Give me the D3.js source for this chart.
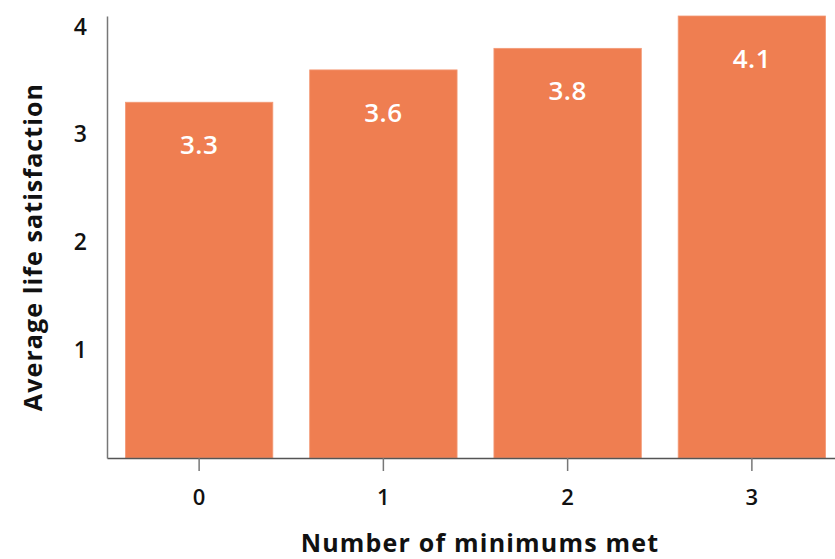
<!DOCTYPE html>
<html>
<head>
<meta charset="utf-8">
<script src="https://cdn.jsdelivr.net/npm/d3@7"></script>
<style>
  html, body { margin: 0; padding: 0; background: #fff; }
  svg { display: block; font-family: "Open Sans", "Noto Sans", sans-serif; }
</style>
</head>
<body>
<svg id="chart" width="835" height="559"></svg>
<script>
// Average life satisfaction by number of minimums met
const categories = ["0", "1", "2", "3"];
const values = [3.3, 3.6, 3.8, 4.1];
const yTicks = [1, 2, 3, 4];
const xTitle = "Number of minimums met";
const yTitle = "Average life satisfaction";

const svg = d3.select("#chart");
const plotLeft = 107, plotRight = 844, plotBottom = 458, plotTop = 16;

const x = d3.scaleBand()
  .domain(categories)
  .range([plotLeft, plotRight])
  .paddingInner(0.2)
  .paddingOuter(0.1);

const y = d3.scaleLinear()
  .domain([0, d3.max(values)])
  .range([plotBottom, plotTop]);

// bars
svg.append("g")
  .selectAll("rect")
  .data(values)
  .join("rect")
  .attr("x", (d, i) => x(categories[i]))
  .attr("y", d => y(d))
  .attr("width", x.bandwidth())
  .attr("height", d => y(0) - y(d))
  .attr("fill", "#ef7e51")
  .attr("stroke", "#f39a77")
  .attr("stroke-width", 0.8);

// value labels inside the bars
svg.append("g")
  .selectAll("text")
  .data(values)
  .join("text")
  .attr("x", (d, i) => x(categories[i]) + x.bandwidth() / 2)
  .attr("y", d => y(d) + 52)
  .attr("text-anchor", "middle")
  .attr("fill", "#fff")
  .attr("font-size", 26)
  .attr("font-weight", 600)
  .attr("letter-spacing", 0.5)
  .text(d => d3.format(".1f")(d));

// x axis
const xAxis = svg.append("g")
  .attr("transform", `translate(0,${plotBottom})`)
  .call(d3.axisBottom(x).tickSize(13).tickSizeOuter(0).tickPadding(18));
xAxis.select(".domain").attr("stroke", "#555").attr("stroke-width", 1.5);
xAxis.selectAll(".tick line").attr("stroke", "#777").attr("stroke-width", 1.5);
xAxis.selectAll(".tick text")
  .attr("font-size", 22).attr("font-weight", 600).attr("fill", "#111")
  .attr("font-family", "Open Sans, sans-serif");

// y axis
const yAxis = svg.append("g")
  .attr("transform", `translate(${plotLeft},0)`)
  .call(d3.axisLeft(y).tickValues(yTicks).tickSize(0).tickPadding(20).tickFormat(d3.format("d")));
yAxis.select(".domain").attr("stroke", "#777").attr("stroke-width", 1.5);
yAxis.selectAll(".tick text")
  .attr("font-size", 23).attr("font-weight", 600).attr("fill", "#111")
  .attr("font-family", "Open Sans, sans-serif");

// axis titles
svg.append("text")
  .attr("x", 480)
  .attr("y", 552)
  .attr("text-anchor", "middle")
  .attr("font-size", 25)
  .attr("font-weight", 700)
  .attr("letter-spacing", 1.2)
  .attr("fill", "#111")
  .text(xTitle);

svg.append("text")
  .attr("transform", "translate(42,247) rotate(-90)")
  .attr("text-anchor", "middle")
  .attr("font-size", 25)
  .attr("font-weight", 700)
  .attr("letter-spacing", 1.1)
  .attr("fill", "#111")
  .text(yTitle);
</script>
</body>
</html>
